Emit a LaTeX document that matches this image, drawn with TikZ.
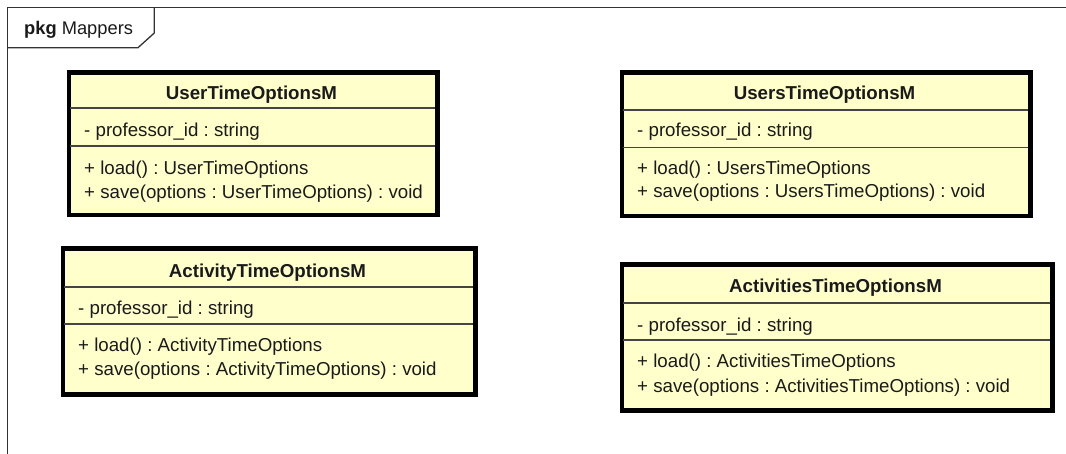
\documentclass[tikz,border=0pt]{standalone}
\usepackage{fontspec}
\setmainfont{Liberation Sans}
\definecolor{umlfill}{HTML}{FFFFCC}
\definecolor{frameline}{HTML}{333333}
\definecolor{sepcol}{HTML}{444444}
\definecolor{txtcol}{HTML}{1A1A1A}
\frenchspacing
\begin{document}
\begin{tikzpicture}[x=1pt,y=-1pt,
  classbox/.style={draw=black, line width=3pt, fill=umlfill, anchor=north west, inner sep=0pt},
  sepline/.style={draw=sepcol, line width=1.3pt},
  frame/.style={draw=frameline, line width=1.3pt},
  umltitle/.style={font=\fontsize{18.7}{22}\selectfont\bfseries, text=txtcol, anchor=base, inner sep=0pt},
  member/.style={font=\fontsize{18.7}{22}\selectfont, text=txtcol, anchor=base west, inner sep=0pt},
  pkglabel/.style={font=\fontsize{18.3}{22}\selectfont, text=txtcol, anchor=base west, inner sep=0pt}]
\useasboundingbox (0,0) rectangle (1066,454);
\fill[white] (0,0) rectangle (1066,454);

% package frame
\draw[frame] (7.3,460) -- (7.3,7.3) -- (1070,7.3);
\draw[frame] (7.3,47.7) -- (138,47.7) -- (154.3,33) -- (154.3,7.3);
\node[pkglabel] (pkg) at (24,35) {\textbf{pkg} Mappers};

% class 1
\node[classbox, minimum width=367pt, minimum height=141pt] (c1) at (68,72) {};
\draw[sepline] (68,108) -- (435,108);
\draw[sepline] (68,146) -- (435,146);
\draw[line width=3pt] (c1.north west) rectangle (c1.south east);
\node[umltitle] (c1t) at (251.5,100) {UserTimeOptionsM};
\node[member] (c1a) at (84,137) {- professor\_id : string};
\node[member] (c1o1) at (84,175) {+ load() : UserTimeOptions};
\node[member] (c1o2) at (84,199) {+ save(options : UserTimeOptions) : void};

% class 2
\node[classbox, minimum width=407pt, minimum height=142pt] (c2) at (621,72) {};
\draw[sepline] (621,110) -- (1028,110);
\draw[sepline] (621,147.5) -- (1028,147.5);
\draw[line width=3pt] (c2.north west) rectangle (c2.south east);
\node[umltitle] (c2t) at (824.5,99.5) {UsersTimeOptionsM};
\node[member] (c2a) at (637,137) {- professor\_id : string};
\node[member] (c2o1) at (637,174.5) {+ load() : UsersTimeOptions};
\node[member] (c2o2) at (637,198) {+ save(options : UsersTimeOptions) : void};

% class 3
\node[classbox, minimum width=411pt, minimum height=144pt] (c3) at (62,248) {};
\draw[sepline] (62,287) -- (473,287);
\draw[sepline] (62,324) -- (473,324);
\draw[line width=3pt] (c3.north west) rectangle (c3.south east);
\node[umltitle] (c3t) at (267.5,278) {ActivityTimeOptionsM};
\node[member] (c3a) at (78,315) {- professor\_id : string};
\node[member] (c3o1) at (78,352) {+ load() : ActivityTimeOptions};
\node[member] (c3o2) at (78,376) {+ save(options : ActivityTimeOptions) : void};

% class 4
\node[classbox, minimum width=429pt, minimum height=144pt] (c4) at (621,264) {};
\draw[sepline] (621,303) -- (1050,303);
\draw[sepline] (621,340) -- (1050,340);
\draw[line width=3pt] (c4.north west) rectangle (c4.south east);
\node[umltitle] (c4t) at (835.5,293) {ActivitiesTimeOptionsM};
\node[member] (c4a) at (637,332) {- professor\_id : string};
\node[member] (c4o1) at (637,368) {+ load() : ActivitiesTimeOptions};
\node[member] (c4o2) at (637,392) {+ save(options : ActivitiesTimeOptions) : void};
\end{tikzpicture}
\end{document}
